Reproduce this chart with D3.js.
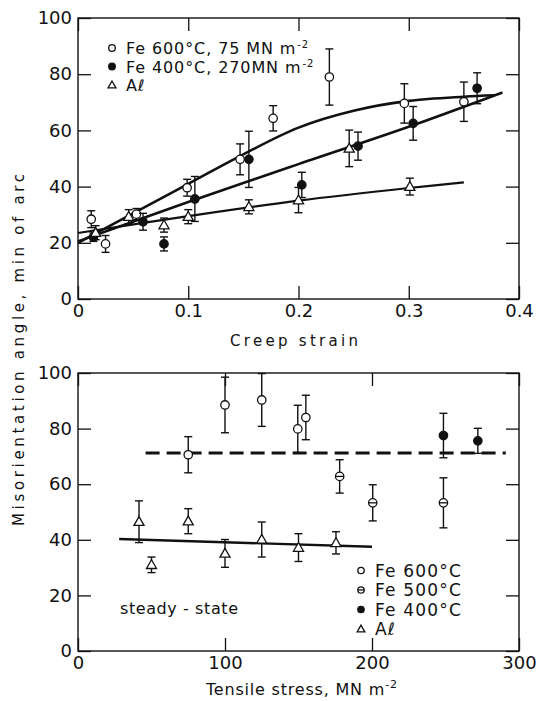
<!DOCTYPE html>
<meta charset="utf-8">
<head>
<script src="https://d3js.org/d3.v7.min.js"></script>
<style>
  body { margin: 0; background: #fff; }
  text { font-family: "DejaVu Sans", sans-serif; fill: #111; }
</style>
</head>
<body>
<svg id="chart" width="546" height="701"></svg>
<script>
// ---- top panel: misorientation vs creep strain ----
var fe600Strain = [0.012, 0.025, 0.053, 0.099, 0.147, 0.177, 0.228, 0.296, 0.350];
var fe600Angle  = [28.4, 19.6, 30.2, 39.6, 49.7, 64.3, 79.0, 69.6, 70.2];
var fe600Err    = [3, 3, 2, 3, 5.5, 4.5, 10, 7, 7];

var fe400Strain = [0.014, 0.059, 0.078, 0.106, 0.155, 0.203, 0.254, 0.304, 0.362];
var fe400Angle  = [22.0, 27.5, 19.6, 35.6, 49.7, 40.6, 54.4, 62.5, 75.0];
var fe400Err    = [1.5, 3, 2.5, 8, 10, 4.5, 5, 6, 5.5];

var alStrain = [0.016, 0.046, 0.078, 0.100, 0.155, 0.200, 0.246, 0.301];
var alAngle  = [23.6, 29.3, 26.3, 29.3, 32.8, 35.2, 53.6, 40.0];
var alErr    = [2.5, 2.5, 2.5, 2.5, 2.5, 4.5, 6.5, 3];

// fitted curves
var fit600Strain = [0, 0.05, 0.1, 0.15, 0.2, 0.25, 0.3, 0.35, 0.378];
var fit600Angle  = [20, 30.5, 41, 51.5, 61, 67, 70.5, 72, 72.5];
var fit400Strain = [0, 0.1, 0.2, 0.3, 0.385];
var fit400Angle  = [20.5, 34.5, 48, 61.3, 73.5];
var fitAlStrain  = [0, 0.1, 0.2, 0.3, 0.35];
var fitAlAngle   = [23.5, 29.5, 35, 39.5, 41.5];

var strainTicks = [0, 0.1, 0.2, 0.3, 0.4];
var angleTicks  = [0, 20, 40, 60, 80, 100];

// ---- bottom panel: steady-state misorientation vs tensile stress ----
var s600Stress = [75, 100, 125, 149.5, 155];
var s600Angle  = [70.6, 88.5, 90.3, 79.9, 84.0];
var s600Err    = [6.5, 10, 9.5, 8.5, 8];

var s500Stress = [178, 200.5, 248.6];
var s500Angle  = [62.8, 53.3, 53.3];
var s500Err    = [6, 6.5, 9];

var s400Stress = [248.6, 272];
var s400Angle  = [77.5, 75.6];
var s400Err    = [8, 4.5];

var sAlStress = [41.5, 50, 75, 100, 125, 150, 175.5];
var sAlAngle  = [46.5, 31.0, 46.7, 35.1, 40.1, 37.2, 38.9];
var sAlErr    = [7.5, 2.8, 4.5, 5, 6.3, 5, 4];

var feMeanStress = [46, 291];
var feMeanAngle  = [71.2, 71.2];
var alMeanStress = [28, 200];
var alMeanAngle  = [40.3, 37.5];

var stressTicks = [0, 100, 200, 300];

var svg = d3.select("#chart");

var xTop = d3.scaleLinear().domain([0, 0.4]).range([78, 519]);
var yTop = d3.scaleLinear().domain([0, 100]).range([299, 18]);
var xBot = d3.scaleLinear().domain([0, 300]).range([78, 519]);
var yBot = d3.scaleLinear().domain([0, 100]).range([651, 373]);

function frame(x, y, xt, yt, fmt) {
  var g = svg.append("g");
  var x0 = x.range()[0], x1 = x.range()[1], y0 = y.range()[0], y1 = y.range()[1];
  g.append("rect").attr("x", x0).attr("y", y1).attr("width", x1 - x0).attr("height", y0 - y1)
    .attr("fill", "none").attr("stroke", "#111").attr("stroke-width", 1.4);
  g.append("g").attr("transform", "translate(" + x0 + ",0)")
    .call(d3.axisLeft(y).tickValues(yt).tickSizeInner(-13).tickSizeOuter(0).tickPadding(6));
  g.append("g").attr("transform", "translate(" + x1 + ",0)")
    .call(d3.axisRight(y).tickValues(yt).tickSizeInner(-13).tickSizeOuter(0).tickFormat(""));
  g.append("g").attr("transform", "translate(0," + y0 + ")")
    .call(d3.axisBottom(x).tickValues(xt).tickSizeInner(-13).tickSizeOuter(0).tickPadding(5).tickFormat(fmt));
  g.append("g").attr("transform", "translate(0," + y1 + ")")
    .call(d3.axisTop(x).tickValues(xt).tickSizeInner(-13).tickSizeOuter(0).tickFormat(""));
  g.selectAll(".domain").remove();
  g.selectAll(".tick line").attr("stroke", "#111").attr("stroke-width", 1.3);
  g.selectAll(".tick text").style("font-size", "18px").style("font-family", "DejaVu Sans").attr("fill", "#111");
  return g;
}

frame(xTop, yTop, strainTicks, angleTicks, function (d) { return d === 0 ? "0" : d3.format(".1f")(d); });
frame(xBot, yBot, stressTicks, angleTicks, d3.format("d"));

function lineOf(x, y, xs, ys, curve) {
  return d3.line().x(function (d) { return x(d[0]); }).y(function (d) { return y(d[1]); })
    .curve(curve || d3.curveLinear)(d3.zip(xs, ys));
}

// fitted lines, top
svg.append("path").attr("d", lineOf(xTop, yTop, fit600Strain, fit600Angle, d3.curveCatmullRom))
  .attr("fill", "none").attr("stroke", "#111").attr("stroke-width", 2.6);
svg.append("path").attr("d", lineOf(xTop, yTop, fit400Strain, fit400Angle, d3.curveCatmullRom))
  .attr("fill", "none").attr("stroke", "#111").attr("stroke-width", 2.6);
svg.append("path").attr("d", lineOf(xTop, yTop, fitAlStrain, fitAlAngle, d3.curveCatmullRom))
  .attr("fill", "none").attr("stroke", "#111").attr("stroke-width", 2.2);

// bottom lines
svg.append("path").attr("d", lineOf(xBot, yBot, feMeanStress, feMeanAngle))
  .attr("fill", "none").attr("stroke", "#111").attr("stroke-width", 3).attr("stroke-dasharray", "14,7");
svg.append("path").attr("d", lineOf(xBot, yBot, alMeanStress, alMeanAngle))
  .attr("fill", "none").attr("stroke", "#111").attr("stroke-width", 2.4);

function marker(g, kind, cx, cy, r) {
  if (kind === "tri") {
    var h = r * 2.1, w = r * 1.2;
    g.append("path").attr("d", "M" + cx + "," + (cy - h * 0.58) + "L" + (cx + w) + "," + (cy + h * 0.42) +
      "L" + (cx - w) + "," + (cy + h * 0.42) + "Z")
      .attr("fill", "#fff").attr("stroke", "#111").attr("stroke-width", 1.3);
  } else {
    g.append("circle").attr("cx", cx).attr("cy", cy).attr("r", r)
      .attr("fill", kind === "filled" ? "#111" : "#fff").attr("stroke", "#111").attr("stroke-width", 1.3);
    if (kind === "half") {
      g.append("line").attr("x1", cx - r).attr("x2", cx + r).attr("y1", cy).attr("y2", cy)
        .attr("stroke", "#111").attr("stroke-width", 1.3);
    }
  }
}

function series(x, y, xs, ys, es, kind) {
  var g = svg.append("g");
  xs.forEach(function (v, i) {
    var px = x(v), lo = y(ys[i] - es[i]), hi = y(ys[i] + es[i]);
    g.append("line").attr("x1", px).attr("x2", px).attr("y1", lo).attr("y2", hi)
      .attr("stroke", "#111").attr("stroke-width", 1.4);
    [lo, hi].forEach(function (yy) {
      g.append("line").attr("x1", px - 4).attr("x2", px + 4).attr("y1", yy).attr("y2", yy)
        .attr("stroke", "#111").attr("stroke-width", 1.4);
    });
    marker(g, kind, px, y(ys[i]), 4.2);
  });
}

series(xTop, yTop, fe600Strain, fe600Angle, fe600Err, "open");
series(xTop, yTop, fe400Strain, fe400Angle, fe400Err, "filled");
series(xTop, yTop, alStrain, alAngle, alErr, "tri");

series(xBot, yBot, s600Stress, s600Angle, s600Err, "open");
series(xBot, yBot, s500Stress, s500Angle, s500Err, "half");
series(xBot, yBot, s400Stress, s400Angle, s400Err, "filled");
series(xBot, yBot, sAlStress, sAlAngle, sAlErr, "tri");

// legends
function legendRow(g, kind, mx, my, r, label, sup, size, ls) {
  marker(g, kind, mx, my, r);
  var t = g.append("text").attr("x", mx + 14).attr("y", my + 6)
    .style("font-size", size + "px").style("letter-spacing", ls + "px");
  t.append("tspan").text(label);
  if (sup) t.append("tspan").attr("dy", -6).attr("dx", 1).style("font-size", "10px").text(sup);
}
var lt = svg.append("g");
legendRow(lt, "open", 112, 48, 3.3, "Fe  600\u00B0C, 75 MN m", "-2", 16, 0.9);
legendRow(lt, "filled", 112, 66.5, 3.3, "Fe  400\u00B0C, 270MN m", "-2", 16, 0.9);
legendRow(lt, "tri", 112, 85, 3.3, "A\u2113", null, 16, 0.9);

var lb = svg.append("g");
legendRow(lb, "open", 361, 570.5, 3.2, "Fe  600\u00B0C", null, 17, 1.2);
legendRow(lb, "half", 361, 590, 3.2, "Fe  500\u00B0C", null, 17, 1.2);
legendRow(lb, "filled", 361, 609.5, 3.2, "Fe  400\u00B0C", null, 17, 1.2);
legendRow(lb, "tri", 361, 629, 3.2, "A\u2113", null, 17, 1.2);

svg.append("text").attr("x", 120).attr("y", 614).style("font-size", "16px")
  .attr("textLength", 118).attr("lengthAdjust", "spacing").text("steady - state");

// axis titles
svg.append("text").attr("x", 230).attr("y", 346).style("font-size", "15px")
  .attr("textLength", 128).attr("lengthAdjust", "spacing").text("Creep strain");

var tt = svg.append("text").attr("x", 206).attr("y", 695)
  .style("font-size", "16px").style("letter-spacing", "0.8px");
tt.append("tspan").text("Tensile stress, MN m");
tt.append("tspan").attr("dy", -7).style("font-size", "11px").text("-2");

svg.append("text").attr("transform", "translate(24,350) rotate(-90)")
  .attr("text-anchor", "middle").style("font-size", "15px")
  .attr("textLength", 352).attr("lengthAdjust", "spacing")
  .text("Misorientation angle, min of arc");
</script>
</body>
